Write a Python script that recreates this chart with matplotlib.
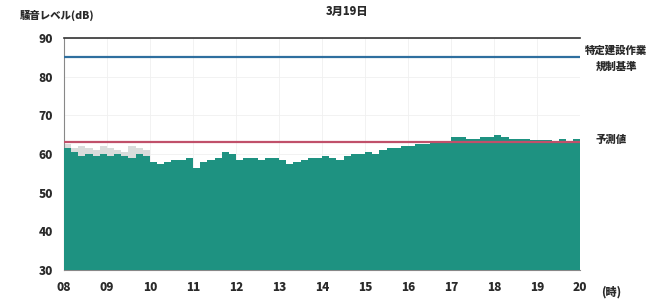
import matplotlib
matplotlib.use('Agg')
import matplotlib.pyplot as plt
import numpy as np

plt.rcParams['font.family'] = ['Noto Sans CJK JP', 'DejaVu Sans']

# 10-minute levels, 08:00 - 20:00 (dB)
levels = [
    61.5, 60.5, 59.5, 60.0, 59.5, 60.0,   # 08
    59.5, 60.0, 59.5, 59.0, 60.0, 59.5,   # 09
    58.0, 57.5, 58.0, 58.5, 58.5, 59.0,   # 10
    56.5, 58.0, 58.5, 59.0, 60.5, 60.0,   # 11
    58.5, 59.0, 59.0, 58.5, 59.0, 59.0,   # 12
    58.5, 57.5, 58.0, 58.5, 59.0, 59.0,   # 13
    59.5, 59.0, 58.5, 59.5, 60.0, 60.0,   # 14
    60.5, 60.0, 61.0, 61.5, 61.5, 62.0,   # 15
    62.0, 62.5, 62.5, 63.0, 63.0, 63.0,   # 16
    64.5, 64.5, 64.0, 64.0, 64.5, 64.5,   # 17
    65.0, 64.5, 64.0, 64.0, 64.0, 63.5,   # 18
    63.5, 63.5, 63.0, 64.0, 63.0, 64.0,   # 19
]
# lighter series shown only 08:00 - 10:00
levels_grey = [62.5, 61.5, 62.0, 61.5, 61.0, 62.0,
               61.5, 61.0, 60.5, 62.0, 61.5, 61.0]

hour_ticks = list(range(8, 21))
hour_labels = [f'{h:02d}' for h in hour_ticks]
y_ticks = [30, 40, 50, 60, 70, 80, 90]

limit_level = 85     # 特定建設作業 規制基準
predicted_level = 63  # 予測値

step = 1 / 6
x = 8 + np.arange(len(levels)) * step
x_grey = 8 + np.arange(len(levels_grey)) * step

fig = plt.figure(figsize=(6.52, 3.04), dpi=100)
ax = fig.add_axes([0.098, 0.112, 0.792, 0.763])

ax.bar(x_grey, levels_grey, width=step, align='edge', color='#d9dcdb', linewidth=0, zorder=2)
ax.bar(x, levels, width=step, align='edge', color='#1e9281', linewidth=0, zorder=3)

ax.axhline(limit_level, color='#2f6f9f', lw=1.6, zorder=4)
ax.axhline(predicted_level, color='#c0506a', lw=1.6, zorder=4)

ax.set_xlim(8, 20)
ax.set_ylim(30, 90)
ax.set_xticks(hour_ticks)
ax.set_xticklabels(hour_labels)
ax.set_yticks(y_ticks)
ax.grid(True, color='#f0f0f0', lw=0.6, zorder=0)
ax.tick_params(length=0, labelsize=8.5, pad=8)
for lab in ax.get_xticklabels() + ax.get_yticklabels():
    lab.set_fontweight('heavy')
    lab.set_color('#2a2a2a')

for side in ['left', 'bottom']:
    ax.spines[side].set_color('#888888')
ax.spines['right'].set_visible(False)
ax.spines['top'].set_color('#333333')
ax.spines['top'].set_linewidth(1.2)

txt = dict(fontweight='heavy', color='#2a2a2a')
fig.text(0.533, 0.965, '3月19日', ha='center', va='center', fontsize=8, **txt)
fig.text(0.03, 0.95, '騒音レベル(dB)', ha='left', va='center', fontsize=7.5, **txt)
fig.text(0.945, 0.835, '特定建設作業', ha='center', va='center', fontsize=7.5, **txt)
fig.text(0.945, 0.782, '規制基準', ha='center', va='center', fontsize=7.5, **txt)
fig.text(0.937, 0.54, '予測値', ha='center', va='center', fontsize=7.5, **txt)
fig.text(0.937, 0.04, '(時)', ha='center', va='center', fontsize=8, **txt)

fig.savefig('out.png', dpi=100, facecolor='white')
